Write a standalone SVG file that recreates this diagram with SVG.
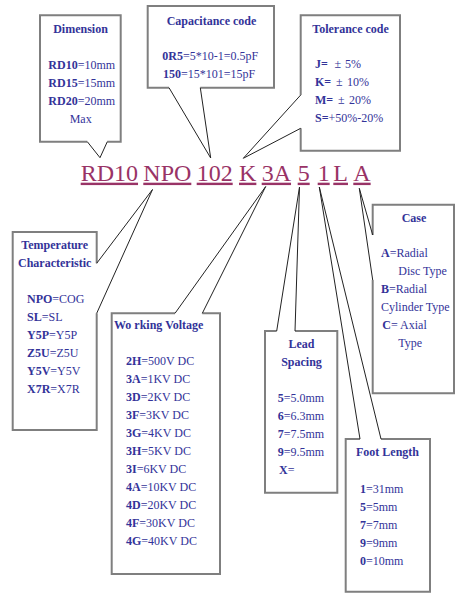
<svg xmlns="http://www.w3.org/2000/svg" width="463" height="597" viewBox="0 0 463 597">
<style>
.box{fill:#fff;stroke:#7f7f7f;stroke-width:2;stroke-linejoin:miter}
.ptr{fill:none;stroke:#222;stroke-width:1}
.t{font-family:"Liberation Serif","Times New Roman",serif;font-size:12px;fill:#333399}
.b{font-weight:bold}
.c{text-anchor:middle}
.code{font-family:"Liberation Serif","Times New Roman",serif;font-size:24px;fill:#993366;text-decoration:underline}
</style>
<rect width="463" height="597" fill="#fff"/>
<g id="code">
<text class="code" x="80.7" y="180.7">RD10</text>
<text class="code" x="143.3" y="180.7">NPO</text>
<text class="code" x="196.7" y="180.7">102</text>
<text class="code" x="239" y="180.7">K</text>
<text class="code" x="261.7" y="180.7">3A</text>
<text class="code" x="297.7" y="180.7">5</text>
<text class="code" x="317.7" y="180.7">1</text>
<text class="code" x="333.3" y="180.7">L</text>
<text class="code" x="353.3" y="180.7">A</text>
</g>
<g id="dimension">
<path class="box" d="M87.3,141.7 H40 V15.3 H120.7 V141.7 H107.3"/>
<text class="t b c" x="80.5" y="33.3">Dimension</text>
<text class="t" x="48.3" y="69.3"><tspan class="b">RD10</tspan>=10mm</text>
<text class="t" x="48.3" y="87.3"><tspan class="b">RD15</tspan>=15mm</text>
<text class="t" x="48.3" y="105"><tspan class="b">RD20</tspan>=20mm</text>
<text class="t c" x="80.7" y="122.7">Max</text>
</g>
<g id="capacitance">
<path class="box" d="M169,87.7 H147.7 V6 H274 V87.7 H200.3"/>
<text class="t b" x="166.7" y="25">Capacitance code</text>
<text class="t" x="162.3" y="60"><tspan class="b">0R5</tspan>=5*10-1=0.5pF</text>
<text class="t" x="163" y="77.7"><tspan class="b">150</tspan>=15*101=15pF</text>
</g>
<g id="tolerance">
<path class="box" d="M300.7,95 V15.3 H400 V150.7 H300.7 V128.3"/>
<text class="t b" x="312.3" y="33.3">Tolerance code</text>
<text class="t" x="315" y="68.3"><tspan class="b">J=</tspan><tspan x="334.5">±</tspan><tspan x="345">5%</tspan></text>
<text class="t" x="315" y="86"><tspan class="b">K=</tspan><tspan x="336">±</tspan><tspan x="347">10%</tspan></text>
<text class="t" x="315" y="104"><tspan class="b">M=</tspan><tspan x="338">±</tspan><tspan x="349">20%</tspan></text>
<text class="t" x="315" y="122.3"><tspan class="b">S=</tspan>+50%-20%</text>
</g>
<g id="temperature">
<path class="box" d="M96.7,263.3 V232 H12.7 V430 H96.7 V313.3"/>
<text class="t b c" x="54.7" y="249.3">Temperature</text>
<text class="t b c" x="54.7" y="266.7">Characteristic</text>
<text class="t" x="27" y="302.7"><tspan class="b">NPO</tspan>=COG</text>
<text class="t" x="27" y="320.7"><tspan class="b">SL</tspan>=SL</text>
<text class="t" x="27" y="338.7"><tspan class="b">Y5P</tspan>=Y5P</text>
<text class="t" x="27" y="356.7"><tspan class="b">Z5U</tspan>=Z5U</text>
<text class="t" x="27" y="374.7"><tspan class="b">Y5V</tspan>=Y5V</text>
<text class="t" x="27" y="392.7"><tspan class="b">X7R</tspan>=X7R</text>
</g>
<g id="voltage">
<path class="box" d="M175,313.3 H111.7 V574 H220 V313.3 H202.3"/>
<text class="t b" x="114" y="329.3">Wo rking Voltage</text>
<text class="t" x="126" y="365"><tspan class="b">2H</tspan>=500V DC</text>
<text class="t" x="126" y="383"><tspan class="b">3A</tspan>=1KV DC</text>
<text class="t" x="126" y="401"><tspan class="b">3D</tspan>=2KV DC</text>
<text class="t" x="126" y="419"><tspan class="b">3F</tspan>=3KV DC</text>
<text class="t" x="126" y="437"><tspan class="b">3G</tspan>=4KV DC</text>
<text class="t" x="126" y="455"><tspan class="b">3H</tspan>=5KV DC</text>
<text class="t" x="126" y="473"><tspan class="b">3I</tspan>=6KV DC</text>
<text class="t" x="126" y="491"><tspan class="b">4A</tspan>=10KV DC</text>
<text class="t" x="126" y="509"><tspan class="b">4D</tspan>=20KV DC</text>
<text class="t" x="126" y="527"><tspan class="b">4F</tspan>=30KV DC</text>
<text class="t" x="126" y="545"><tspan class="b">4G</tspan>=40KV DC</text>
</g>
<g id="lead">
<path class="box" d="M276.7,331 H265 V492.7 H337.3 V331 H295"/>
<text class="t b c" x="301.5" y="347.7">Lead</text>
<text class="t b c" x="301.5" y="366">Spacing</text>
<text class="t" x="277.7" y="401.7"><tspan class="b">5</tspan>=5.0mm</text>
<text class="t" x="277.7" y="419.7"><tspan class="b">6</tspan>=6.3mm</text>
<text class="t" x="277.7" y="437.7"><tspan class="b">7</tspan>=7.5mm</text>
<text class="t" x="277.7" y="455.7"><tspan class="b">9</tspan>=9.5mm</text>
<text class="t" x="279" y="473.7"><tspan class="b">X</tspan>=</text>
</g>
<g id="foot">
<path class="box" d="M360,439 H345.7 V591.7 H430 V439 H381"/>
<text class="t b" x="356" y="456">Foot Length</text>
<text class="t" x="360" y="492.7"><tspan class="b">1</tspan>=31mm</text>
<text class="t" x="360" y="510.7"><tspan class="b">5</tspan>=5mm</text>
<text class="t" x="360" y="528.7"><tspan class="b">7</tspan>=7mm</text>
<text class="t" x="360" y="546.7"><tspan class="b">9</tspan>=9mm</text>
<text class="t" x="360" y="564.7"><tspan class="b">0</tspan>=10mm</text>
</g>
<g id="case">
<path class="box" d="M372.7,235 V204.7 H454 V393.3 H372.7 V280"/>
<text class="t b c" x="414" y="221.7">Case</text>
<text class="t" x="381" y="256.7"><tspan class="b">A</tspan>=Radial</text>
<text class="t" x="398.3" y="274.7">Disc Type</text>
<text class="t" x="381" y="292.7"><tspan class="b">B</tspan>=Radial</text>
<text class="t" x="381" y="310.7">Cylinder Type</text>
<text class="t" x="382.3" y="328.7"><tspan class="b">C</tspan>= Axial</text>
<text class="t" x="398.3" y="346.7">Type</text>
</g>
<g id="connectors">
<path class="ptr" d="M87.3,141.7 L100,157.7 L107.3,141.7"/>
<path class="ptr" d="M169,87.7 L210.7,158 L200.3,87.7"/>
<path class="ptr" d="M300.7,95 L243.3,158.3 L300.7,128.3"/>
<path class="ptr" d="M96.7,263.3 L152.5,189.5 L96.7,313.3"/>
<path class="ptr" d="M175,313.3 L265.7,186.5 L202.3,313.3"/>
<path class="ptr" d="M276.7,331 L299.5,187 L295,331"/>
<path class="ptr" d="M360,439 L319.3,187 L381,439"/>
<path class="ptr" d="M372.7,235 L359.3,188.3 L372.7,280"/>
</g>
</svg>
